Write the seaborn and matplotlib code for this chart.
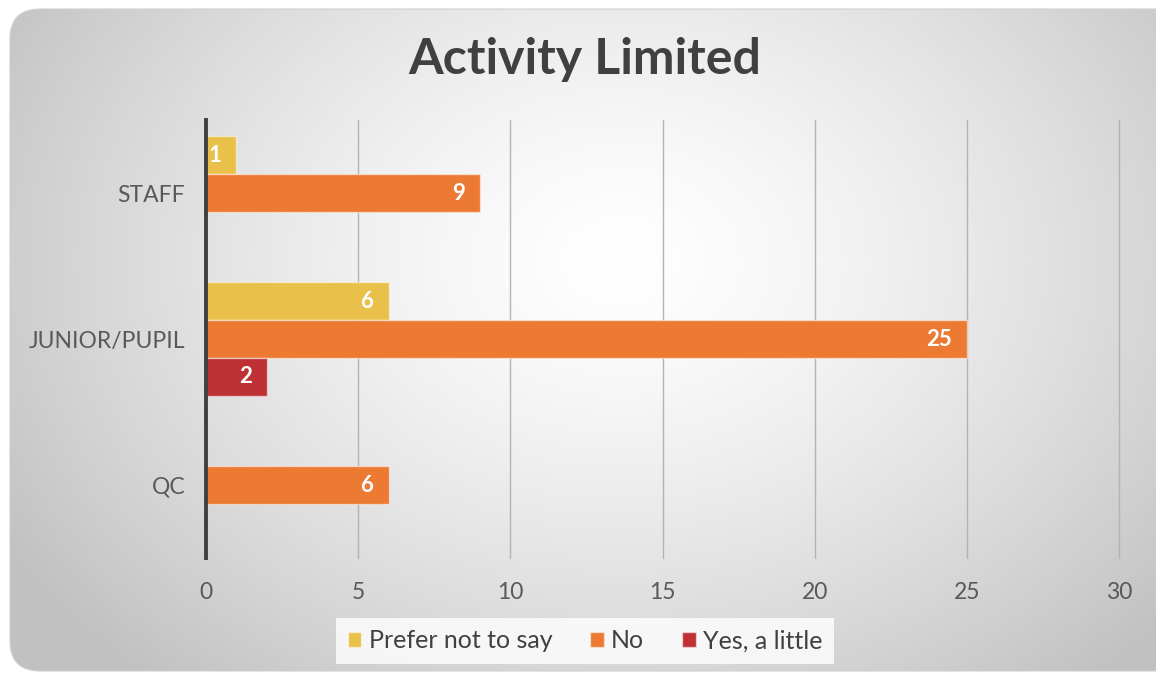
import numpy as np
import pandas as pd
import matplotlib
matplotlib.use("Agg")
import matplotlib.pyplot as plt
import seaborn as sns
from matplotlib.patches import FancyBboxPatch

categories = ["STAFF", "JUNIOR/PUPIL", "QC"]
series = ["Prefer not to say", "No", "Yes, a little"]
prefer_not = [1, 6, None]
no_vals = [9, 25, 6]
yes_little = [None, 2, None]
colors = ["#E8C04A", "#ED7A33", "#BE3236"]
x_ticks = [0, 5, 10, 15, 20, 25, 30]
title = "Activity Limited"

rows = []
for s, vals in zip(series, [prefer_not, no_vals, yes_little]):
    for c, v in zip(categories, vals):
        if v is not None:
            rows.append({"category": c, "response": s, "value": v})
df = pd.DataFrame(rows)

sns.set_theme(style="white")
plt.rcParams["font.family"] = ["Lato", "DejaVu Sans"]

W, H = 1156, 675
fig = plt.figure(figsize=(W / 100, H / 100), dpi=100)
fig.patch.set_facecolor("white")

# background panel with radial gradient
bg = fig.add_axes([0, 0, 1, 1])
bg.set_xlim(0, W)
bg.set_ylim(H, 0)
bg.axis("off")
yy, xx = np.mgrid[0:H, 0:W]
r = np.sqrt(((xx - 620) / 650.0) ** 2 + ((yy - 260) / 500.0) ** 2)
val = np.clip(1.0 - 0.21 * r ** 1.4, 0.76, 1.0)
img = np.dstack([val, val, val])
im = bg.imshow(img, extent=(0, W, H, 0), interpolation="bilinear", zorder=0)
panel = FancyBboxPatch((10, 9), 1180, 662, boxstyle="round,pad=0,rounding_size=30",
                       transform=bg.transData, facecolor="none", edgecolor="#d0d0d0", lw=0.8)
bg.add_patch(panel)
im.set_clip_path(panel)

ax = fig.add_axes([206 / W, 1 - 558 / H, (1119 - 206) / W, (558 - 120) / H])
ax.patch.set_alpha(0)

sns.barplot(data=df, y="category", x="value", hue="response", order=categories,
            hue_order=series, palette=colors, orient="h", width=0.78, errorbar=None,
            edgecolor=(1, 1, 1, 0.5), linewidth=1.0, ax=ax, saturation=1)

ax.set_xlim(0, 30)
ax.set_xticks(x_ticks)
ax.set_xlabel("")
ax.set_ylabel("")
ax.grid(axis="x", color="#b3b3b3", lw=1.0)
ax.grid(axis="y", visible=False)
for gl in ax.get_xgridlines():
    gl.set_clip_on(False)
ax.set_axisbelow(True)
for sp in ["top", "right", "bottom"]:
    ax.spines[sp].set_visible(False)
ax.spines["left"].set_color("#404040")
ax.spines["left"].set_linewidth(2.8)
ax.spines["left"].set_zorder(5)
ax.tick_params(axis="both", length=0, labelsize=16.5, colors="#595959")
ax.tick_params(axis="x", pad=17)
ax.tick_params(axis="y", pad=15)

for cont in ax.containers:
    texts = ax.bar_label(cont, padding=-11, color="white", fontweight="bold", fontsize=16)
    for t in texts:
        t.set_ha("right")

leg = ax.legend(loc="center", bbox_to_anchor=(585 / W, 1 - 641 / H), bbox_transform=fig.transFigure,
                ncol=3, frameon=True, fontsize=18, handlelength=0.55, handleheight=0.55,
                handletextpad=0.3, columnspacing=1.5, borderpad=0.45, fancybox=False)
leg.get_frame().set_facecolor((1, 1, 1, 0.25))
leg.get_frame().set_edgecolor("none")
for t in leg.get_texts():
    t.set_color("#404040")

fig.text(585 / W, 1 - 60 / H, title, ha="center", va="center", fontsize=36,
         fontweight="bold", color="#404040")

fig.savefig("out.png", dpi=100)
